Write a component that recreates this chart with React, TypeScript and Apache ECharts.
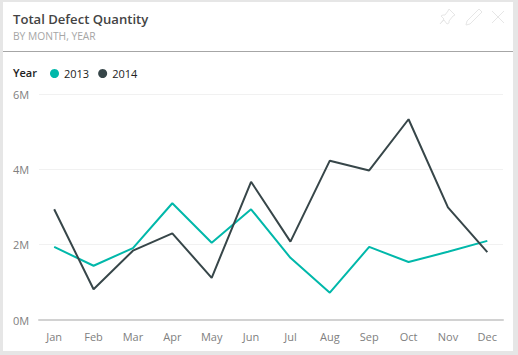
import React, { useEffect, useRef } from "react";
import * as echarts from "echarts";

const months = ["Jan","Feb","Mar","Apr","May","Jun","Jul","Aug","Sep","Oct","Nov","Dec"];
const values2013 = [1.94,1.44,1.91,3.1,2.05,2.94,1.65,0.725,1.94,1.54,1.81,2.1];
const values2014 = [2.94,0.815,1.84,2.3,1.12,3.67,2.08,4.23,3.97,5.33,2.99,1.8];
const FONT = "'Open Sans', sans-serif";

const pinPath = "M9 0 L15 6 L13 7 L9 12 L9 14 L7 15 L4 11 L0 15 L4 10 L1 7 L3 6 L5 6 L8 2 Z";
echarts.graphic.registerShape("pinIcon", echarts.graphic.extendPath(pinPath as any, {} as any) as any);

export default function App() {
  const ref = useRef<HTMLDivElement>(null);
  useEffect(() => {
    const chart = echarts.init(ref.current!, undefined, { renderer: "svg" });
    const iconStyle = { stroke: "#e6e6e6", fill: "none", lineWidth: 1 };
    chart.setOption({
      animation: false,
      backgroundColor: "#e6e6e6",
      textStyle: { fontFamily: FONT },
      grid: [
        { left: 39, top: 94, width: 464, height: 226 },
        { left: 34.5, top: 94, width: 472.5, height: 226 },
      ],
      xAxis: [
        { gridIndex: 0, type: "category", data: months, axisLabel: { show: false }, axisTick: { show: false },
          axisLine: { lineStyle: { color: "#d2d2d2", width: 2 } }, splitLine: { show: false } },
        { gridIndex: 1, type: "category", data: months, axisTick: { show: false }, axisLine: { show: false },
          axisLabel: { color: "#808080", fontSize: 11, fontFamily: FONT, margin: 11, interval: 0 } },
      ],
      yAxis: [
        { gridIndex: 0, type: "value", min: 0, max: 6, interval: 2,
          axisLabel: { color: "#808080", fontSize: 11, fontFamily: FONT, margin: 26, align: "left", formatter: (v: number) => `${v}M` },
          axisLine: { show: false }, axisTick: { show: false },
          splitLine: { lineStyle: { color: "#f1f1f1", width: 1 } } },
        { gridIndex: 1, type: "value", min: 0, max: 6, interval: 2, show: false },
      ],
      legend: {
        left: 45, top: 63, itemWidth: 9, itemHeight: 9, itemGap: 9, icon: "circle",
        data: ["2013", "2014"],
        textStyle: { color: "#222222", fontSize: 11, fontFamily: FONT },
      },
      series: [
        { name: "2013", type: "line", xAxisIndex: 1, yAxisIndex: 1, data: values2013, color: "#01b8aa", showSymbol: false, symbol: "circle",
          lineStyle: { width: 2, color: "#01b8aa" } },
        { name: "2014", type: "line", xAxisIndex: 1, yAxisIndex: 1, data: values2014, color: "#374649", showSymbol: false, symbol: "circle",
          lineStyle: { width: 2, color: "#374649" } },
      ],
      graphic: [
        { type: "rect", silent: true, z: -10, shape: { x: 3, y: 2, width: 510, height: 349 }, style: { fill: "#ffffff" } },
        { type: "line", silent: true, shape: { x1: 3, y1: 51.5, x2: 513, y2: 51.5 }, style: { stroke: "#a6a6a6", lineWidth: 1 } },
        { type: "text", x: 13, y: 12, style: { text: "Total Defect Quantity", fill: "#444444", font: `600 13.1px ${FONT}` } },
        { type: "text", x: 13, y: 31, style: { text: "BY MONTH, YEAR", fill: "#a6a6a6", font: `10.25px ${FONT}` } },
        { type: "text", x: 13, y: 67, style: { text: "Year", fill: "#222222", font: `600 11px ${FONT}` } },
        { type: "pinIcon", x: 440, y: 9, style: iconStyle },
        { type: "polyline", shape: { points: [[479,9],[482,12],[470,24],[466,25],[467,21],[479,9]] }, style: iconStyle },
        { type: "line", shape: { x1: 492, y1: 11, x2: 504, y2: 23 }, style: iconStyle },
        { type: "line", shape: { x1: 504, y1: 11, x2: 492, y2: 23 }, style: iconStyle },
      ],
    });
    return () => chart.dispose();
  }, []);
  return <div ref={ref} style={{ width: 518, height: 355, position: "fixed", left: 0, top: 0 }} />;
}
